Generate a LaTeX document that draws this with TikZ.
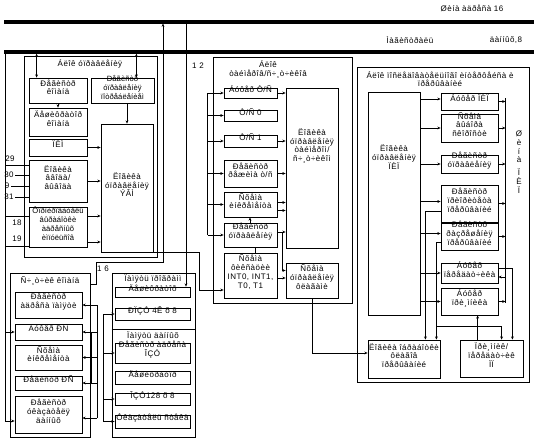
\documentclass[tikz,border=0pt]{standalone}
\usepackage{fontspec}
\setmainfont{Liberation Sans}[LetterSpace=6]
\usetikzlibrary{fit,arrows.meta}
\newcommand\myfs{\fontsize{8}{8.8}\selectfont}
\newcommand\myfsn{\fontsize{7.6}{8.8}\selectfont\addfontfeatures{LetterSpace=1}}
\begin{document}
\begin{tikzpicture}[x=1pt,y=-1pt,line width=0.8pt,
  >={Stealth[length=3.2pt,width=2.8pt]},
  box/.style={draw,inner sep=0pt,align=center,font=\myfs},
  lab/.style={inner sep=0pt,align=center,font=\myfs},
  bus/.style={line width=3.2pt}]
\useasboundingbox (0,0) rectangle (534,439);
% buses
\coordinate (abL) at (4,22); \coordinate (abR) at (534,22);
\coordinate (dbL) at (4,52); \coordinate (dbR) at (534,52);
\draw[bus] (abL) -- (abR);
\draw[bus] (dbL) -- (dbR);
\node[lab] (tab) at (472,8) {Øèíà àäðåñà 16};
\node[lab] (tdb1) at (410,40) {Ìàãèñòðàëü};
\node[lab] (tdb2) at (506,40) {äàííûõ,8};
% ---------- left block
\node[box,fit={(24,56)(157,257)}] (outL) {};
\node[lab] (tL) at (90,64) {Áëîê óïðàâëåíèÿ};
\node[box,fit={(29,78)(87,103)}] (rk) {Ðåãèñòð\\êîìàíä};
\node[box,fit={(91,78)(154,103)},font=\myfsn] (rup) {Ðåãèñòð\\óïðàâëåíèÿ\\ïîòðåáëåíèåì};
\node[box,fit={(29,108)(87,136)}] (dk) {Äåøèôðàòîð\\êîìàíä};
\node[box,fit={(29,139)(87,156)}] (plm) {ÏËÌ};
\node[box,fit={(29,160)(87,202)}] (lvv) {Ëîãèêà\\ââîäà/\\âûâîäà};
\node[box,fit={(29,207)(87,247)},font=\myfsn] (frm) {Ôîðìèðîâàòåëü\\âûðàáîòêè\\àäðåñíûõ\\èìïóëüñîâ};
\node[box,fit={(101,124)(153,252)}] (evm) {Ëîãèêà\\óïðàâëåíèÿ\\ÝÂÌ};
% pins
\node[lab] (p29) at (10,159) {29};
\node[lab] (p30) at (9,175) {30};
\node[lab] (p9) at (7,186) {9};
\node[lab] (p31) at (9,197) {31};
\node[lab] (p18) at (17,223) {18};
\node[lab] (p19) at (17,239) {19};
\coordinate (q29) at (6,165); \draw (q29) -- (q29 -| lvv.west);
\coordinate (q30) at (15,175); \draw (q30) -- (q30 -| lvv.west);
\coordinate (q9) at (11,186); \draw (q9) -- (q9 -| lvv.west);
\coordinate (q31) at (15,197); \draw (q31) -- (q31 -| lvv.west);
\coordinate (q18) at (6,216); \draw (q18) -- (q18 -| frm.west);
\coordinate (q19) at (6,246); \draw (q19) -- (q19 -| frm.west);
% left connections
\coordinate (a1) at ([xshift=8pt]rk.north west);
\draw[<->,shorten >=1.6pt] (a1) -- (a1 |- dbL);
\coordinate (a2) at ([xshift=-18pt]rup.north east);
\draw[<->,shorten >=1.6pt] (a2) -- (a2 |- dbL);
\draw[->] (rk.south) -- (dk.north);
\coordinate (a3) at ([xshift=4.5pt]rup.south);
\draw[->] (a3) -- (a3 |- evm.north);
\draw[->] (plm.east) -- (plm.east -| evm.west);
\draw[->] (lvv.east) -- (lvv.east -| evm.west);
\coordinate (a4) at ([yshift=11pt]frm.east); \draw[->] (a4) -- (a4 -| evm.west);
\coordinate (a5) at ([yshift=-15pt]frm.east); \draw[->] (a5) -- (a5 -| evm.west);
% ---------- middle block
\node[box,fit={(213,57)(352,303)}] (outM) {};
\node[lab] (tM) at (268,69) {Áëîê\\òàéìåðîâ/ñ÷¸ò÷èêîâ};
\node[lab] (n12) at (198,66) {1 2};
\node[box,fit={(224,88)(277,98)}] (bts) {Áóôåð Ò/Ñ};
\node[box,fit={(224,110)(277,121)}] (ts0) {Ò/Ñ 0};
\node[box,fit={(224,135)(277,147)}] (ts1) {Ò/Ñ 1};
\node[box,fit={(224,160)(277,187)}] (rrts) {Ðåãèñòð\\ðåæèìà ò/ñ};
\node[box,fit={(224,192)(277,217)}] (sinc) {Ñõåìà\\èíêðåìåíòà};
\node[box,fit={(224,223)(277,247)}] (rum) {Ðåãèñòð\\óïðàâëåíèÿ};
\node[box,fit={(224,253)(277,298)}] (sfix) {Ñõåìà\\ôèêñàöèè\\INT0, INT1,\\T0, T1};
\node[box,fit={(286,88)(338,248)}] (lut) {};
\node[lab] (tlut) at (312,146) {Ëîãèêà\\óïðàâëåíèÿ\\òàéìåðîì/\\ñ÷¸ò÷èêîì};
\node[box,fit={(286,263)(338,298)}] (sfl) {Ñõåìà\\óïðàâëåíèÿ\\ôëàãàìè};
% ЭВМ -> фиксации
\coordinate (a7) at ([yshift=-14.5pt]sfix.west);
\coordinate (a8) at ([xshift=-24pt]a7);
\draw[->] (evm.south east) -| (a8) -- (a7);
% middle bus
\coordinate (mb1) at ([xshift=-16pt]bts.west);
\coordinate (mb2) at ([xshift=-16pt]rum.west);
\draw (mb1) -- (mb2);
\foreach \nn in {bts,ts0,ts1,rrts,sinc} \draw[->] (\nn.west -| mb1) -- (\nn.west);
\draw[->] (mb2) -- (rum.west);
\draw[->] (bts.east) -- (bts.east -| lut.west);
\draw[->] (ts1.east) -- (ts1.east -| lut.west);
\draw[->] (rrts.east) -- (rrts.east -| lut.west);
\coordinate (m1) at ([yshift=2pt]sinc.east); \draw[->] (m1) -- (m1 -| lut.west);
\coordinate (m2) at ([yshift=-6pt]sinc.east); \draw[->] (m2) -- (m2 -| lut.west);
\coordinate (m3) at ([yshift=3pt]rum.east); \draw[->] (m3) -- (m3 -| lut.west);
\coordinate (m4) at ([xshift=5pt]m3);
\coordinate (m5) at ([yshift=10pt]sfl.west);
\draw[->] (m4) |- (m5);
\coordinate (m6) at ([yshift=-2.5pt]sfix.east); \draw[->] (m6) -- (m6 -| sfl.west);
\coordinate (m7) at ([xshift=-0.5pt]sinc.south); \draw[->] (m7 |- rum.north) -- (m7);
\draw ([xshift=5pt]rum.south) -- ([xshift=5pt]sfix.north);
% ---------- right block
\node[box,fit={(357,67)(529,382)}] (outR) {};
\node[lab] (tR) at (440,79) {Áëîê ïîñëåäîâàòåëüíîãî èíòåðôåéñà è\\ïðåðûâàíèé};
\node[box,fit={(368,92)(420,315)}] (lpip) {};
\node[lab] (tlpip) at (394,157) {Ëîãèêà\\óïðàâëåíèÿ\\ÏÈÏ};
\node[box,fit={(441,93)(498,110)}] (bpip) {Áóôåð ÏÈÏ};
\node[box,fit={(441,114)(498,142)}] (svs) {Ñõåìà\\âûáîðà\\ñêîðîñòè};
\node[box,fit={(441,155)(498,173)}] (rupr) {Ðåãèñòð\\óïðàâëåíèÿ};
\node[box,fit={(441,185)(498,222)}] (rpp) {Ðåãèñòð\\ïðèîðèòåòà\\ïðåðûâàíèé};
\node[box,fit={(441,223)(498,250)}] (rrp) {Ðåãèñòð\\ðàçðåøåíèÿ\\ïðåðûâàíèé};
\node[box,fit={(441,263)(498,283)}] (bper) {Áóôåð\\ïåðåäàò÷èêà};
\node[box,fit={(441,288)(498,315)}] (bpri) {Áóôåð\\ïðè¸ìíèêà};
\node[box,fit={(368,340)(440,378)}] (lof) {Ëîãèêà îáðàáîòêè\\ôëàãîâ\\ïðåðûâàíèé};
\node[box,fit={(460,340)(523,377)}] (pp) {Ïðè¸ìíèê/\\ïåðåäàò÷èê\\ÏÏ};
\node[lab] (tsh) at (519,162) {Ø\\è\\í\\à\\[4pt]Ï\\È\\Ï};
% right bus
\coordinate (rb1) at ([xshift=7pt,yshift=3.5pt]bpip.east);
\coordinate (rb2) at ([xshift=7pt,yshift=-1.5pt]bpri.east);
\draw (rb1) -- (rb2);
\foreach \nn in {bpip,svs,rupr,rpp,rrp,bpri} \draw[->] (\nn.east) -- (\nn.east -| rb1);
\coordinate (r1) at ([yshift=-4pt]bper.east); \draw[<-] (r1) -- (r1 -| rb1);
\coordinate (r2) at ([yshift=5pt]bper.east);
\coordinate (r3) at ([xshift=-11pt]pp.north east);
\draw[->] (r2) -| (r3);
\coordinate (r4) at ([xshift=18pt]pp.north west);
\draw[->] (r4) -- (r4 |- bpri.south);
\coordinate (l1) at ([yshift=2.5pt]bpip.west); \draw[->] (l1 -| lpip.east) -- (l1);
\draw[->] (svs.west -| lpip.east) -- (svs.west);
\draw[->] (rupr.west -| lpip.east) -- (rupr.west);
\coordinate (l2) at ([yshift=2pt]rpp.west); \draw[->] (l2 -| lpip.east) -- (l2);
\coordinate (l3) at ([yshift=-8pt]rpp.west);
\coordinate (l4) at ([xshift=-15pt]lof.north east);
\draw[->] (l3) -| (l4);
\coordinate (l5) at ([yshift=3pt]rrp.west); \draw[->] (l5 -| lpip.east) -- (l5);
\coordinate (l6) at ([yshift=-6pt]rrp.west);
\coordinate (l7) at ([xshift=-4pt]lof.north east);
\draw[->] (l6) -| (l7);
\coordinate (l8) at ([yshift=13pt]l7);
\coordinate (l9) at ([xshift=42pt]pp.north west);
\draw[->] (l8) -| (l9);
\draw[->] (bper.west -| lpip.east) -- (bper.west);
\draw[->] (bpri.west -| lpip.east) -- (bpri.west);
% flags -> logic
\coordinate (r9) at ([yshift=6pt]lof.west);
\draw[->] (sfl.south) |- (r9);
% ---------- program counter block
\node[box,fit={(10,273)(90,437)}] (outC) {};
\node[lab] (tC) at (50,281) {Ñ÷¸ò÷èê êîìàíä};
\node[box,fit={(15,292)(82,318)}] (rap) {Ðåãèñòð\\àäðåñà ïàìÿòè};
\node[box,fit={(15,324)(82,340)}] (bpc) {Áóôåð ÐÑ};
\node[box,fit={(15,345)(82,370)}] (sipc) {Ñõåìà\\èíêðåìåíòà};
\node[box,fit={(15,376)(82,390)}] (rpc) {Ðåãèñòð ÐÑ};
\node[box,fit={(15,396)(82,433)}] (rud) {Ðåãèñòð\\óêàçàòåëÿ\\äàííûõ};
\coordinate (cb1) at ([xshift=15pt]rap.east);
\coordinate (cb2) at ([xshift=15pt,yshift=-3.5pt]rud.east);
\draw (cb1) -- (cb2);
\draw[<-] (rap.east) -- (cb1);
\draw[<-] (bpc.east) -- (bpc.east -| cb1);
\draw[<-] (sipc.east) -- (sipc.east -| cb1);
\draw[<-] (rpc.east) -- (rpc.east -| cb1);
\draw[<-] ([yshift=-3.5pt]rud.east) -- (cb2);
\coordinate (cb3) at ([xshift=9pt]bpc.east);
\coordinate (cb4) at ([xshift=9pt]rpc.east);
\draw (cb3) -- (cb4);
% data line at left
\coordinate (dl1) at ([xshift=1pt]dbL);
\coordinate (dl2) at ([yshift=-6.5pt]rud.west);
\draw[->] (dl1) |- (dl2);
\draw[->] (bpc.west -| dl1) -- (bpc.west);
% PC -> address bus (16)
\coordinate (k1) at ([yshift=-12pt]outC.north east);
\coordinate (k2) at ([xshift=6pt]k1);
\coordinate (v1) at (163,23.6);
\coordinate (v1b) at (163,262);
\draw[->] (k1) -- (k2) |- (v1b) -- (v1);
\node[lab] (n16) at (103,269) {1 6};
% ---------- memory block
\node[box,fit={(112,273)(195,437)}] (outP) {};
\node[lab] (tP) at (153,279) {Ïàìÿòü ïðîãðàìì};
\node[box,fit={(115,287)(190,297)}] (dsh1) {Äåøèôðàòîð};
\node[box,fit={(115,308)(190,320)}] (rpzu) {ÐÏÇÓ 4Ê õ 8};
\coordinate (sp0) at ([yshift=-9pt]rpzu.south);
\draw (sp0 -| outP.west) -- (sp0 -| outP.east);
\node[lab] (tD) at (153,336) {Ïàìÿòü äàííûõ};
\node[box,fit={(115,343)(190,363)}] (raozu) {Ðåãèñòð àäðåñà\\ÎÇÓ};
\node[box,fit={(115,371)(190,384)}] (dsh2) {Äåøèôðàòîð};
\node[box,fit={(115,393)(190,405)}] (ozu) {ÎÇÓ128 õ 8};
\node[box,fit={(115,415)(190,428)}] (ust) {Óêàçàòåëü ñòåêà};
\coordinate (pb1) at ([xshift=-11pt]rpzu.west);
\coordinate (pb2) at ([xshift=-11pt]ust.west);
\draw (pb1) -- (pb2);
\foreach \nn in {rpzu,raozu,ozu,ust} \draw[->] (\nn.west -| pb1) -- (\nn.west);
% address line 12 to program memory
\coordinate (v2) at (186,22);
\draw[->] (v2) -- (v2 |- dsh1.north);
\end{tikzpicture}
\end{document}
